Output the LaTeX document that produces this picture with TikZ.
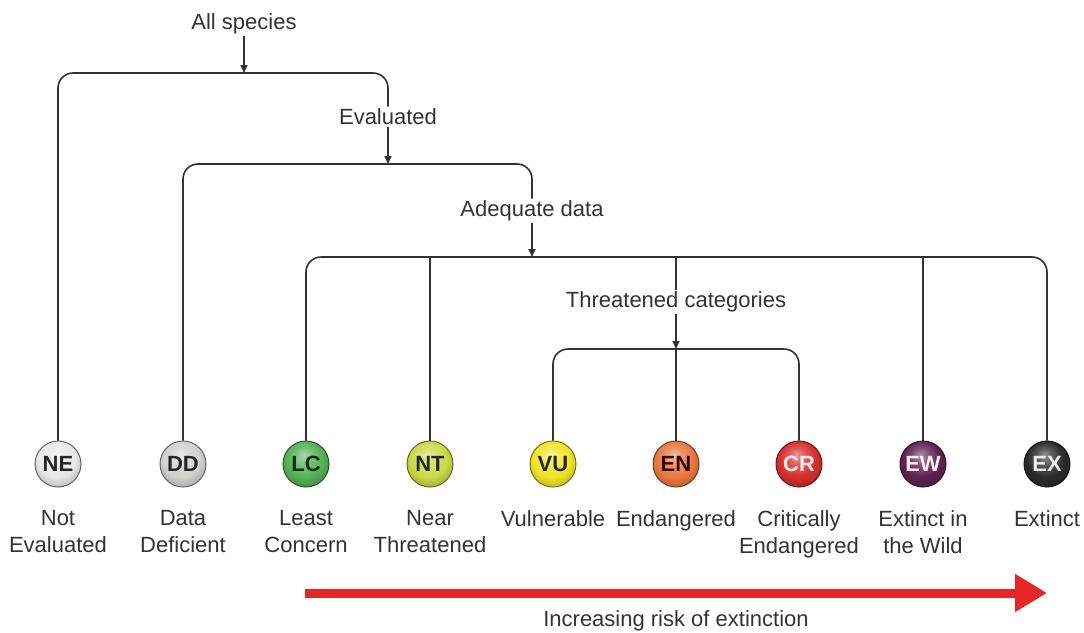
\documentclass[tikz,border=0pt]{standalone}
\usepackage{fontspec}
\setmainfont{Liberation Sans}
\usetikzlibrary{arrows.meta}
\definecolor{linec}{HTML}{333333}
\definecolor{riskred}{HTML}{E52626}
\definecolor{cNE}{HTML}{E8E8E8}
\definecolor{cDD}{HTML}{D2D2CC}
\definecolor{cLC}{HTML}{55B055}
\definecolor{cNT}{HTML}{C8DA48}
\definecolor{cVU}{HTML}{F0E428}
\definecolor{cEN}{HTML}{E8783F}
\definecolor{cCR}{HTML}{D62E2E}
\definecolor{cEW}{HTML}{5E2250}
\definecolor{cEX}{HTML}{2A2A2A}
\colorlet{ballc}{gray}
\pgfdeclareradialshading[ballc]{iucnball}{\pgfpoint{-3bp}{10bp}}{%
  color(0bp)=(ballc!50!white);
  color(10bp)=(ballc!80!white);
  color(20bp)=(ballc);
  color(29bp)=(ballc!82!black);
  color(45bp)=(ballc!70!black)}
\tikzset{
  lbl/.style={font=\fontsize{22}{27}\selectfont, text=black!80, inner sep=2pt},
  catlbl/.style={font=\fontsize{22}{27}\selectfont, text=black!80, inner sep=0pt, align=center, anchor=north},
  conn/.style={draw=linec, line width=1.6pt, rounded corners=15pt},
  arr/.style={draw=linec, line width=1.6pt, -{Triangle[length=8pt,width=7pt]}},
  ballnode/.style={circle, minimum size=46pt, inner sep=0pt,
    /utils/exec={\colorlet{ballc}{#1}}, shading=iucnball, draw=#1!50!black, line width=1pt,
    font=\fontsize{22}{22}\selectfont\bfseries, text=black!85},
  risk/.style={draw=riskred, line width=9pt, -{Triangle[length=32pt,width=36pt]}},
}
\begin{document}
\begin{tikzpicture}[x=1pt,y=-1pt]
\useasboundingbox[fill=white] (0,0) rectangle (1084,632);
% labels of the branching
\node[lbl] (all) at (244,24) {All species};
\node[lbl] (eval) at (388,117) {Evaluated};
\node[lbl] (adeq) at (532,211) {Adequate data};
\node[lbl] (thr) at (676,302) {Threatened categories};
% category balls
\node[ballnode=cNE, draw=black!60] (NE) at (58,464) {NE};
\node[ballnode=cDD, draw=black!60] (DD) at (183,464) {DD};
\node[ballnode=cLC, text=black!80!green] (LC) at (306,464) {LC};
\node[ballnode=cNT] (NT) at (430,464) {NT};
\node[ballnode=cVU] (VU) at (553,464) {VU};
\node[ballnode=cEN, text=black!80!red] (EN) at (676,464) {EN};
\node[ballnode=cCR, text=white!92!red] (CR) at (799,464) {CR};
\node[ballnode=cEW, text=white!92!magenta] (EW) at (923,464) {EW};
\node[ballnode=cEX, text=white!92!black] (EX) at (1047,464) {EX};
% category names
\node[catlbl] (NEt) at (58,510) {Not\\Evaluated};
\node[catlbl] (DDt) at (183,510) {Data\\Deficient};
\node[catlbl] (LCt) at (306,510) {Least\\Concern};
\node[catlbl] (NTt) at (430,510) {Near\\Threatened};
\node[catlbl] (VUt) at (553,510) {Vulnerable};
\node[catlbl] (ENt) at (676,510) {Endangered};
\node[catlbl] (CRt) at (799,510) {Critically\\Endangered};
\node[catlbl] (EWt) at (923,510) {Extinct in\\the Wild};
\node[catlbl] (EXt) at (1047,510) {Extinct};
% bracket junctions
\coordinate (b1) at (244,73);
\coordinate (b2) at (388,164);
\coordinate (b3) at (532,257);
\coordinate (b4) at (676,349);
% brackets
\draw[conn] (NE.north) |- (b1) -| (eval.north);
\draw[conn] (DD.north) |- (b2) -| (adeq.north);
\draw[conn] (LC.north) |- (b3) -| (EX.north);
\draw[conn] (NT.north) -- (NT.north |- b3);
\draw[conn] (thr.north) -- (thr.north |- b3);
\draw[conn] (EW.north) -- (EW.north |- b3);
\draw[conn] (VU.north) |- (b4) -| (CR.north);
\draw[conn] (EN.north) -- (b4);
% arrows into brackets
\draw[arr] (all.south) -- (b1);
\draw[arr] (eval.south) -- (b2);
\draw[arr] (adeq.south) -- (b3);
\draw[arr] (thr.south) -- (b4);
% risk arrow
\coordinate (rs) at (305,593);
\coordinate (re) at (1047,593);
\draw[risk] (rs) -- (re);
\node[lbl] (risklbl) at (676,621) {Increasing risk of extinction};
\end{tikzpicture}
\end{document}
